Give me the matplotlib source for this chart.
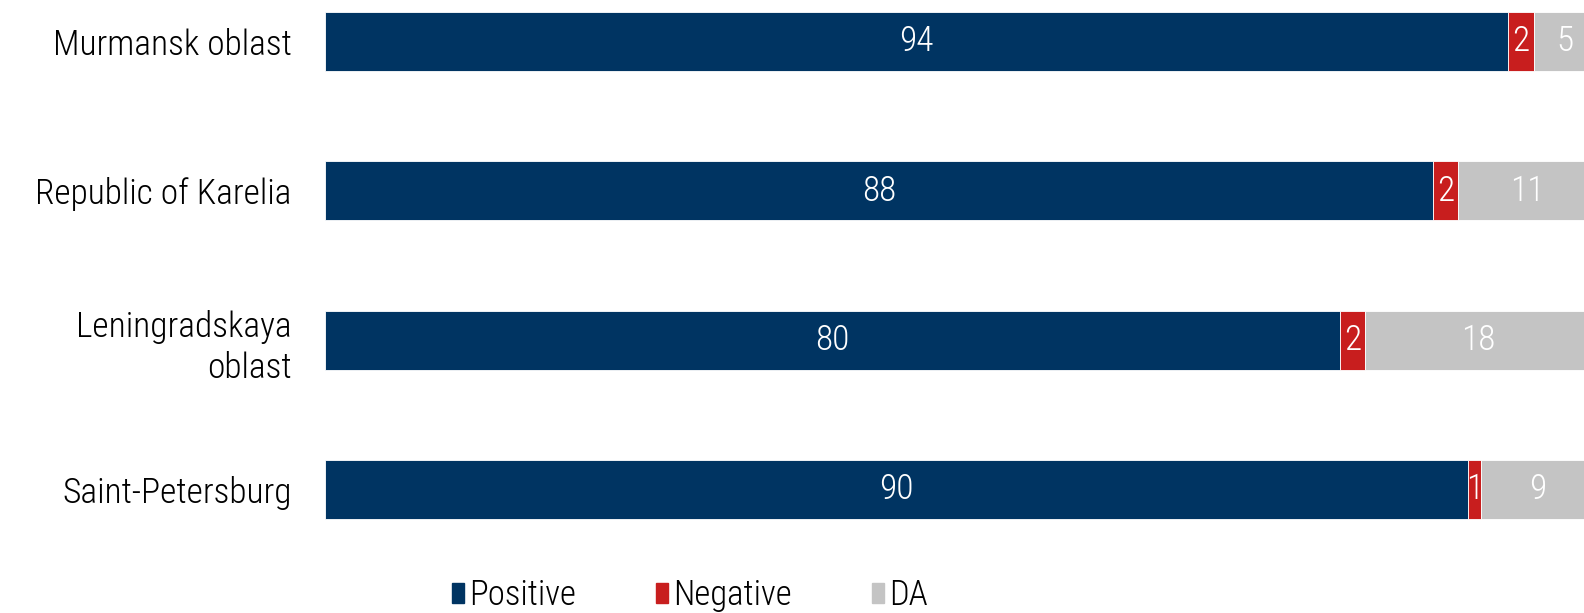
import matplotlib
matplotlib.use("Agg")
import matplotlib.pyplot as plt
import matplotlib.patches as mpatches
from matplotlib import font_manager

# pick a narrow face if one is installed
names = {f.name for f in font_manager.fontManager.ttflist}
FAMILY = "DejaVu Sans"
for cand in ["Liberation Sans Narrow", "Roboto Condensed", "Roboto", "Noto Sans"]:
    if cand in names:
        FAMILY = cand
        break
light = any(f.name == FAMILY and f.weight in (300, "light") for f in font_manager.fontManager.ttflist)
plt.rcParams.update({
    "font.family": [FAMILY, "DejaVu Sans"],
    "font.size":   25,
    "font.weight": "light" if light else "normal",
})

regions  = ["Murmansk oblast", "Republic of Karelia", "Leningradskaya\noblast", "Saint-Petersburg"]
positive = [94, 88, 80.6, 90.8]
negative = [2, 2, 2, 1]
da       = [5, 11, 18, 9]
pos_lbl  = ["94", "88", "80", "90"]
neg_lbl  = ["2", "2", "2", "1"]
da_lbl   = ["5", "11", "18", "9"]

COLORS = {"Positive": "#003462", "Negative": "#C81E1E", "DA": "#C4C4C4"}

fig = plt.figure(figsize=(15.84, 6.13), dpi=100, facecolor="white")
ax = fig.add_axes([0.205, 0.0865, 0.795, 0.9135])

ys = list(range(len(regions)))
H = 0.395
left = [0] * len(regions)
for name, vals, lbls in [("Positive", positive, pos_lbl),
                         ("Negative", negative, neg_lbl),
                         ("DA", da, da_lbl)]:
    ax.barh(ys, vals, left=left, height=H, color=COLORS[name],
            edgecolor="white", linewidth=0.6, label=name)
    for y, l, v, t in zip(ys, left, vals, lbls):
        ax.text(l + v / 2, y, t, ha="center", va="center",
                color="white", fontsize=25.5, clip_on=False)
    left = [a + b for a, b in zip(left, vals)]

ax.set_xlim(0, 100)
ax.set_ylim(3.473, -0.278)
ax.set_yticks(ys)
ax.set_yticklabels(regions, ha="right", fontsize=25.5)
for t in ax.get_yticklabels():
    t.set_linespacing(1.3)
ax.tick_params(axis="y", length=0, pad=24)
ax.set_xticks([])
for s in ax.spines.values():
    s.set_visible(False)

handles = [mpatches.Patch(color=COLORS[k], label=k) for k in COLORS]
fig.legend(handles=handles, loc="center", bbox_to_anchor=(0.4355, 0.029),
           ncol=3, frameon=False, fontsize=25, handlelength=0.35,
           handleheight=0.5, handletextpad=0.15, columnspacing=2.3)

fig.savefig("out.png", dpi=100, facecolor="white")
